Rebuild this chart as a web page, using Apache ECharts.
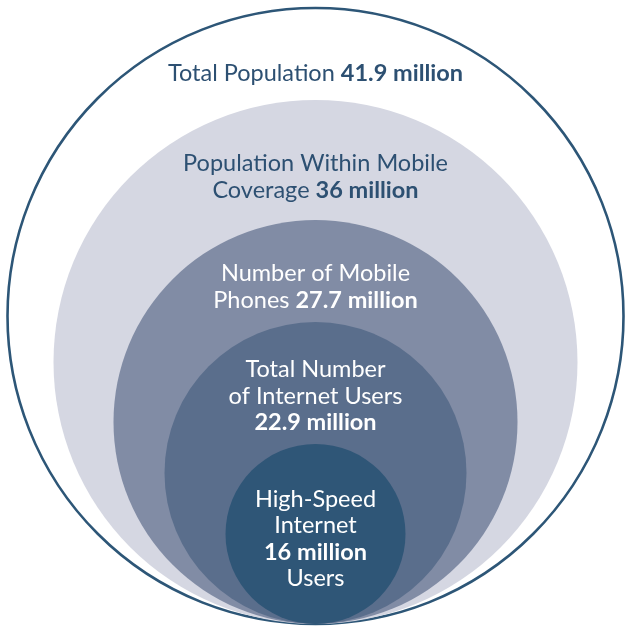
<!DOCTYPE html>
<html>
<head>
<meta charset="utf-8">
<script src="https://cdn.jsdelivr.net/npm/echarts@6/dist/echarts.min.js"></script>
<style>
html,body{margin:0;padding:0;background:#fff;}
#chart{width:625px;height:629px;}
</style>
</head>
<body>
<div id="chart"></div>
<script>
// Data
const categories = ['Total Population', 'Population Within Mobile Coverage', 'Number of Mobile Phones', 'Total Number of Internet Users', 'High-Speed Internet Users'];
const valuesMillion = [41.9, 36, 27.7, 22.9, 16];
const labelTemplates = [
  'Total Population {V}',
  'Population Within Mobile\nCoverage {V}',
  'Number of Mobile\nPhones {V}',
  'Total Number\nof Internet Users\n{V}',
  'High-Speed\nInternet\n{V}\nUsers'
];
// Circle radii in chart units
const radii = [308, 262, 202, 151, 90];

// Layout / style
const centerX = 315.5;
const baseY = 5;
const fills = ['#ffffff', '#d5d7e2', '#818ca5', '#5a6e8c', '#2f5677'];
const textColors = ['#2d5072', '#2d5072', '#ffffff', '#ffffff', '#ffffff'];
const labelOffsets = [65, 77, 67, 74, 95]; // px from circle top to label block centre
const fontFamily = 'Lato, "Open Sans", sans-serif';
const fontSize = 23.5;
const lineHeight = 26.5;

const seriesData = categories.map((c, i) => ({ name: c, value: [centerX, baseY + radii[i], radii[i], i] }));

function labelText(i) {
  const parts = labelTemplates[i].split('\n').map(line => {
    const segs = line.split('{V}');
    let out = '';
    segs.forEach((s, k) => {
      if (s.length) out += '{r|' + s + '}';
      if (k < segs.length - 1) out += '{b|' + valuesMillion[i] + ' million}';
    });
    return out;
  });
  return parts.join('\n');
}

const chart = echarts.init(document.getElementById('chart'));
chart.setOption({
  animation: false,
  grid: { left: 0, right: 0, top: 0, bottom: 0 },
  xAxis: { type: 'value', min: 0, max: 625, show: false },
  yAxis: { type: 'value', min: 0, max: 629, show: false },
  series: [{
    type: 'custom',
    data: seriesData,
    renderItem: function (params, api) {
      const i = api.value(3);
      const c = api.coord([api.value(0), api.value(1)]);
      const r = api.size([api.value(2), api.value(2)])[0];
      const top = c[1] - r;
      const col = textColors[i];
      return {
        type: 'group',
        children: [
          {
            type: 'circle',
            shape: { cx: c[0], cy: c[1], r: r },
            style: i === 0 ? { fill: fills[i], stroke: '#2d5677', lineWidth: 2.6 } : { fill: fills[i] }
          },
          {
            type: 'text',
            z2: 10,
            style: {
              x: c[0],
              y: top + labelOffsets[i],
              text: labelText(i),
              align: 'center',
              verticalAlign: 'middle',
              rich: {
                r: { fontFamily: fontFamily, fontSize: fontSize, fontWeight: 400, fill: col, lineHeight: lineHeight, color: col },
                b: { fontFamily: fontFamily, fontSize: fontSize, fontWeight: 700, fill: col, lineHeight: lineHeight, color: col }
              }
            }
          }
        ]
      };
    }
  }]
});
</script>
</body>
</html>
